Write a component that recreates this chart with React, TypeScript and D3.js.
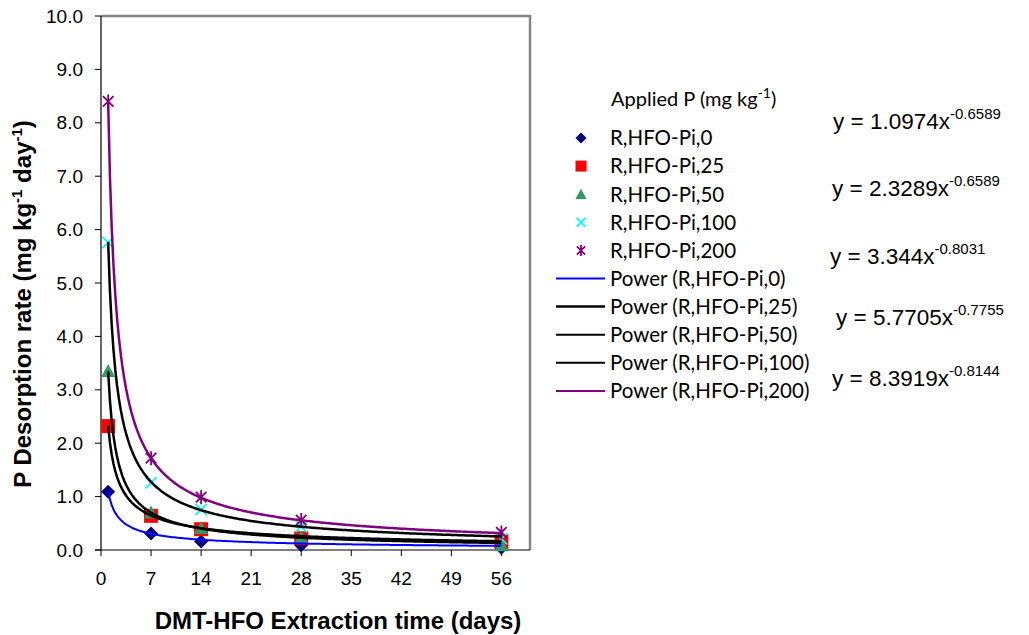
import { useEffect, useRef } from 'react';
import * as d3 from 'd3';

// sampling days
const days = [1, 7, 14, 28, 56];

// P desorption rate per applied P level (mg kg-1 day-1)
const rate0 = [1.09, 0.31, 0.16, 0.09, 0.04];
const rate25 = [2.32, 0.64, 0.39, 0.22, 0.16];
const rate50 = [3.35, 0.7, 0.41, 0.24, 0.09];
const rate100 = [5.76, 1.26, 0.76, 0.44, 0.21];
const rate200 = [8.4, 1.72, 0.99, 0.56, 0.33];

const seriesNames = ['R,HFO-Pi,0', 'R,HFO-Pi,25', 'R,HFO-Pi,50', 'R,HFO-Pi,100', 'R,HFO-Pi,200'];

// power trendlines y = a * x^b (as printed on the chart)
const coefA = [1.0974, 2.3289, 3.344, 5.7705, 8.3919];
const coefB = [-0.6589, -0.6589, -0.8031, -0.7755, -0.8144];
const eqA = ['1.0974', '2.3289', '3.344', '5.7705', '8.3919'];
const eqB = ['-0.6589', '-0.6589', '-0.8031', '-0.7755', '-0.8144'];

const yTicks = d3.range(0, 11, 1);
const xTicks = d3.range(0, 57, 7);

const markerColors = ['#000080', '#ff0000', '#339966', '#00ffff', '#800080'];
const lineColors = ['#0000ff', '#000000', '#000000', '#000000', '#800080'];
const markerTypes = ['diamond', 'square', 'triangle', 'x', 'star'];

// equation label placement (x, baseline y)
const eqPos = [[833, 129], [832, 196], [830, 264], [836, 325], [832, 386]];

const App = () => {
    const svgRef = useRef(null);

    useEffect(() => {
        const width = 1029;
        const height = 635;
        const plot = { left: 101, right: 530, top: 16, bottom: 550 };
        const allRates = [rate0, rate25, rate50, rate100, rate200];

        const svg = d3.select(svgRef.current)
            .attr('width', width)
            .attr('height', height);
        svg.selectAll('*').remove();

        const x = d3.scaleLinear().domain([0, 60]).range([plot.left, plot.right]);
        const y = d3.scaleLinear().domain([0, 10]).range([plot.bottom, plot.top]);

        const arial = 'Liberation Sans, Arial, sans-serif';
        const calibri = 'Lato, Carlito, Calibri, sans-serif';

        // marker drawing helper
        const drawMarker = (g, type, color, cx, cy, s) => {
            const h = s / 2;
            if (type === 'diamond') {
                g.append('path')
                    .attr('d', `M${cx},${cy - h}L${cx + h},${cy}L${cx},${cy + h}L${cx - h},${cy}Z`)
                    .attr('fill', color);
            } else if (type === 'square') {
                g.append('rect')
                    .attr('x', cx - h).attr('y', cy - h)
                    .attr('width', s).attr('height', s)
                    .attr('fill', color);
            } else if (type === 'triangle') {
                g.append('path')
                    .attr('d', `M${cx},${cy - h}L${cx + h},${cy + h * 0.85}L${cx - h},${cy + h * 0.85}Z`)
                    .attr('fill', color);
            } else if (type === 'x') {
                const k = h * 0.8;
                g.append('path')
                    .attr('d', `M${cx - k},${cy - k}L${cx + k},${cy + k}M${cx - k},${cy + k}L${cx + k},${cy - k}`)
                    .attr('stroke', color).attr('stroke-width', 1.8).attr('fill', 'none');
            } else {
                const k = h * 0.75;
                g.append('path')
                    .attr('d', `M${cx - k},${cy - k}L${cx + k},${cy + k}M${cx - k},${cy + k}L${cx + k},${cy - k}M${cx},${cy - h}L${cx},${cy + h}`)
                    .attr('stroke', color).attr('stroke-width', 1.8).attr('fill', 'none');
            }
        };

        // plot frame: grey top/right
        svg.append('path')
            .attr('d', `M${plot.left},${plot.top}H${plot.right}V${plot.bottom}`)
            .attr('fill', 'none')
            .attr('stroke', '#868686')
            .attr('stroke-width', 2.5);

        // axes
        svg.append('line')
            .attr('x1', plot.left).attr('x2', plot.left)
            .attr('y1', plot.top).attr('y2', plot.bottom)
            .attr('stroke', '#000').attr('stroke-width', 1.2);
        svg.append('line')
            .attr('x1', plot.left - 6).attr('x2', plot.right)
            .attr('y1', plot.bottom).attr('y2', plot.bottom)
            .attr('stroke', '#000').attr('stroke-width', 1.2);

        svg.selectAll('.ytick')
            .data(yTicks)
            .enter()
            .append('line')
            .attr('x1', plot.left - 6).attr('x2', plot.left)
            .attr('y1', d => y(d)).attr('y2', d => y(d))
            .attr('stroke', '#000').attr('stroke-width', 1);
        svg.selectAll('.ylabel')
            .data(yTicks)
            .enter()
            .append('text')
            .attr('x', plot.left - 18)
            .attr('y', d => y(d))
            .attr('dy', '0.35em')
            .attr('text-anchor', 'end')
            .style('font-family', arial)
            .style('font-size', '19px')
            .style('fill', '#000')
            .text(d => d.toFixed(1));

        svg.selectAll('.xtick')
            .data(xTicks)
            .enter()
            .append('line')
            .attr('x1', d => x(d)).attr('x2', d => x(d))
            .attr('y1', plot.bottom).attr('y2', plot.bottom + 6)
            .attr('stroke', '#000').attr('stroke-width', 1);
        svg.selectAll('.xlabel')
            .data(xTicks)
            .enter()
            .append('text')
            .attr('x', d => x(d))
            .attr('y', plot.bottom + 35)
            .attr('text-anchor', 'middle')
            .style('font-family', arial)
            .style('font-size', '19px')
            .style('fill', '#000')
            .text(d => d);

        // axis titles
        svg.append('text')
            .attr('x', 338)
            .attr('y', 629)
            .attr('text-anchor', 'middle')
            .style('font-family', arial)
            .style('font-size', '24px')
            .style('font-weight', 'bold')
            .text('DMT-HFO Extraction time (days)');

        const yTitle = svg.append('text')
            .attr('transform', 'translate(31, 304) rotate(-90)')
            .attr('text-anchor', 'middle')
            .style('font-family', arial)
            .style('font-size', '24px')
            .style('font-weight', 'bold');
        yTitle.append('tspan').text('P Desorption rate (mg kg');
        yTitle.append('tspan').attr('dy', -9).style('font-size', '15px').text('-1');
        yTitle.append('tspan').attr('dy', 9).text(' day');
        yTitle.append('tspan').attr('dy', -9).style('font-size', '15px').text('-1');
        yTitle.append('tspan').attr('dy', 9).text(')');

        // markers
        const markG = svg.append('g');
        allRates.forEach((rates, i) => {
            rates.forEach((v, j) => {
                drawMarker(markG, markerTypes[i], markerColors[i], x(days[j]), y(v), 14);
            });
        });

        // power trendlines
        const line = d3.line().x(d => x(d[0])).y(d => y(d[1]));
        const xs = d3.range(1, 56.01, 0.25);
        coefA.forEach((a, i) => {
            svg.append('path')
                .datum(xs.map(t => [t, a * Math.pow(t, coefB[i])]))
                .attr('d', line)
                .attr('fill', 'none')
                .attr('stroke', lineColors[i])
                .attr('stroke-width', i === 0 ? 2 : 2.5);
        });

        // legend
        const legend = svg.append('g');
        const legTitle = legend.append('text')
            .attr('x', 611)
            .attr('y', 106)
            .style('font-family', calibri)
            .style('font-size', '20px');
        legTitle.append('tspan').text('Applied P (mg kg');
        legTitle.append('tspan').attr('dy', -8).style('font-size', '14px').text('-1');
        legTitle.append('tspan').attr('dy', 8).text(')');

        const rowY = k => 138 + k * 28.1;
        seriesNames.forEach((name, i) => {
            drawMarker(legend, markerTypes[i], markerColors[i], 581, rowY(i), 11);
            legend.append('text')
                .attr('x', 610)
                .attr('y', rowY(i))
                .attr('dy', '0.36em')
                .style('font-family', calibri)
                .style('font-size', '20.5px')
                .text(name);
        });
        seriesNames.forEach((name, i) => {
            const k = i + 5;
            legend.append('line')
                .attr('x1', 556).attr('x2', 605)
                .attr('y1', rowY(k)).attr('y2', rowY(k))
                .attr('stroke', lineColors[i])
                .attr('stroke-width', i === 1 ? 2.5 : 2);
            legend.append('text')
                .attr('x', 610)
                .attr('y', rowY(k))
                .attr('dy', '0.36em')
                .style('font-family', calibri)
                .style('font-size', '20.5px')
                .text(`Power (${name})`);
        });

        // trendline equations
        eqA.forEach((a, i) => {
            const t = svg.append('text')
                .attr('x', eqPos[i][0])
                .attr('y', eqPos[i][1])
                .style('font-family', arial)
                .style('font-size', '22.5px');
            t.append('tspan').text(`y = ${a}x`);
            t.append('tspan').attr('dy', -10).style('font-size', '15px').text(eqB[i]);
        });
    }, []);

    return (
        <div style={{ position: 'absolute', left: 0, top: 0, background: '#fff' }}>
            <svg ref={svgRef} style={{ display: 'block' }} />
        </div>
    );
};

export default App;
